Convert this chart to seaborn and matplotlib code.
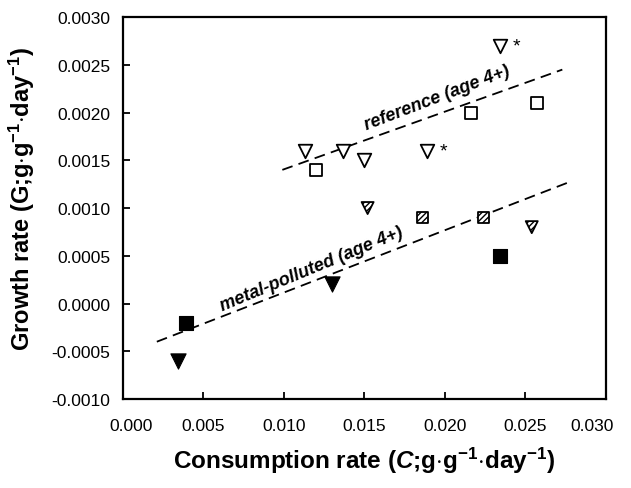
import numpy as np
import pandas as pd
import matplotlib
matplotlib.use("Agg")
import matplotlib.pyplot as plt
import matplotlib.transforms as mtransforms
from matplotlib.ticker import FixedLocator, FuncFormatter
import seaborn as sns

# ---- data ----
ref_tri_x = [0.0113, 0.0137, 0.0150, 0.0189, 0.0234]
ref_tri_y = [0.0016, 0.0016, 0.0015, 0.0016, 0.0027]
ref_sq_x = [0.0120, 0.0216, 0.0257]
ref_sq_y = [0.0014, 0.0020, 0.0021]
hat_tri_x = [0.0152, 0.0254]
hat_tri_y = [0.0010, 0.0008]
hat_sq_x = [0.0186, 0.0224]
hat_sq_y = [0.0009, 0.0009]
met_sq_x = [0.0039, 0.0234]
met_sq_y = [-0.0002, 0.0005]
met_tri_x = [0.0034, 0.0130]
met_tri_y = [-0.0006, 0.0002]
star_x = [0.0189, 0.0234]
star_y = [0.0016, 0.0027]

ref_fit_x = [0.0099, 0.0273]
ref_fit_y = [0.00140, 0.00245]
met_fit_x = [0.0021, 0.0277]
met_fit_y = [-0.00040, 0.00127]

x_ticks = [0.000, 0.005, 0.010, 0.015, 0.020, 0.025, 0.030]
y_ticks = [-0.0010, -0.0005, 0.0000, 0.0005, 0.0010, 0.0015, 0.0020, 0.0025, 0.0030]

sns.set_style("ticks")
plt.rcParams['font.family'] = ['Liberation Sans', 'DejaVu Sans']
plt.rcParams['mathtext.fontset'] = 'custom'
plt.rcParams['mathtext.rm'] = 'Liberation Sans:bold'
plt.rcParams['mathtext.bf'] = 'Liberation Sans:bold'
plt.rcParams['mathtext.it'] = 'Liberation Sans:italic:bold'
plt.rcParams['mathtext.default'] = 'bf'
plt.rcParams['hatch.linewidth'] = 1.0
plt.rcParams['text.color'] = 'black'
plt.rcParams['axes.labelcolor'] = 'black'
plt.rcParams['xtick.color'] = 'black'
plt.rcParams['ytick.color'] = 'black'

fig = plt.figure(figsize=(6.31, 4.89), dpi=100)
ax = fig.add_axes([0.195, 0.182, 0.765, 0.781])

# fit lines
sns.lineplot(x=ref_fit_x, y=ref_fit_y, ax=ax, color='black', lw=1.3,
             linestyle=(0, (6, 3.5)), zorder=2)
sns.lineplot(x=met_fit_x, y=met_fit_y, ax=ax, color='black', lw=1.3,
             linestyle=(0, (6, 3.5)), zorder=2)

# points
sns.scatterplot(x=ref_tri_x, y=ref_tri_y, ax=ax, marker='v', s=95,
                facecolor='white', edgecolor='black', linewidth=1.3, zorder=3)
sns.scatterplot(x=ref_sq_x, y=ref_sq_y, ax=ax, marker='s', s=75,
                facecolor='white', edgecolor='black', linewidth=1.3, zorder=3)
sns.scatterplot(x=hat_tri_x, y=hat_tri_y, ax=ax, marker='v', s=75,
                facecolor='white', edgecolor='black', linewidth=1.3,
                hatch='//////', zorder=3)
sns.scatterplot(x=hat_sq_x, y=hat_sq_y, ax=ax, marker='s', s=60,
                facecolor='white', edgecolor='black', linewidth=1.3,
                hatch='//////', zorder=3)
sns.scatterplot(x=met_sq_x, y=met_sq_y, ax=ax, marker='s', s=90,
                facecolor='black', edgecolor='black', linewidth=0.8, zorder=3)
sns.scatterplot(x=met_tri_x, y=met_tri_y, ax=ax, marker='v', s=120,
                facecolor='black', edgecolor='black', linewidth=0.8, zorder=3)

# asterisks
for sx, sy in zip(star_x, star_y):
    ax.annotate('*', xy=(sx, sy), xytext=(12, 0), textcoords='offset points',
                ha='center', va='center', fontsize=14, color='black')

# line labels
ax.text(0.0195, 0.00216, 'reference (age 4+)', rotation=21, ha='center', va='center',
        fontsize=13, fontstyle='italic', fontweight='bold', rotation_mode='anchor',
        color='black')
ax.text(0.0117, 0.00037, 'metal-polluted (age 4+)', rotation=22.5, ha='center', va='center',
        fontsize=13, fontstyle='italic', fontweight='bold', rotation_mode='anchor',
        color='black')

ax.set_xlim(0.0, 0.030)
ax.set_ylim(-0.0010, 0.0030)
ax.xaxis.set_major_locator(FixedLocator(x_ticks))
ax.yaxis.set_major_locator(FixedLocator(y_ticks))
ax.xaxis.set_major_formatter(FuncFormatter(lambda v, p: f"{v:.3f}"))
ax.yaxis.set_major_formatter(FuncFormatter(lambda v, p: f"{v:.4f}" if abs(v) > 1e-12 else "0.0000"))
ax.tick_params(axis='both', direction='in', length=5, width=1.3, colors='black')
ax.tick_params(axis='x', pad=14, labelsize=12.5)
ax.tick_params(axis='y', pad=9, labelsize=12.5)
for s in ax.spines.values():
    s.set_linewidth(1.6)
    s.set_color('black')

xlbls = ax.get_xticklabels()
shifts = {0: 8, len(xlbls) - 1: -14}
for i, lbl in enumerate(xlbls):
    if i in shifts:
        off = mtransforms.ScaledTranslation(shifts[i] / 100, 0, fig.dpi_scale_trans)
        lbl.set_transform(lbl.get_transform() + off)

ax.set_xlabel(r'Consumption rate ($\mathit{C}$;g$\cdot$g$^{-1}$$\cdot$day$^{-1}$)',
              fontsize=17.5, fontweight='bold', color='black')
ax.set_ylabel(r'Growth rate (G;g$\cdot$g$^{-1}$$\cdot$day$^{-1}$)',
              fontsize=17, fontweight='bold', color='black')
ax.xaxis.set_label_coords(0.5, -0.12)
ax.yaxis.set_label_coords(-0.178, 0.526)

fig.savefig('out.png', dpi=100)
